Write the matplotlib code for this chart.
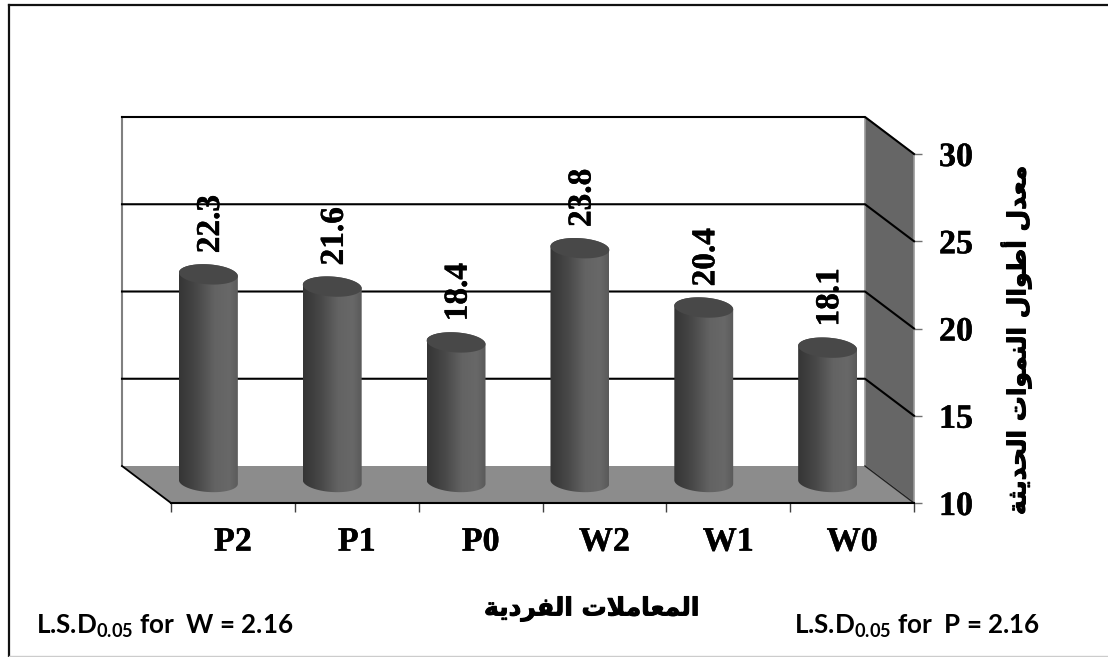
import matplotlib
matplotlib.use('Agg')

import matplotlib.pyplot as plt
import matplotlib.patheffects as pe
import numpy as np
from matplotlib.colors import LinearSegmentedColormap
from matplotlib.lines import Line2D
from matplotlib.patches import Polygon

categories = ['P2', 'P1', 'P0', 'W2', 'W1', 'W0']
values = [22.3, 21.6, 18.4, 23.8, 20.4, 18.1]
y_ticks = [10, 15, 20, 25, 30]

# arabic text in presentation forms, matplotlib does no shaping or bidi
x_title = '\uFE8D\uFEDF\uFEE4\uFECC\uFE8E\uFEE3\uFEFC\uFE95 \uFE8D\uFEDF\uFED4\uFEAE\uFEA9\uFEF3\uFE94'[::-1]
y_title = ('\uFEE3\uFECC\uFEAA\uFEDD \uFE83\uFEC3\uFEEE\uFE8D\uFEDD '
           '\uFE8D\uFEDF\uFEE8\uFEE4\uFEEE\uFE8D\uFE95 '
           '\uFE8D\uFEDF\uFEA4\uFEAA\uFEF3\uFE9C\uFE94')[::-1]
lsd_w = r'L.S.D$_{\mathbf{0.05}}$ for  W = 2.16'
lsd_p = r'L.S.D$_{\mathbf{0.05}}$ for  P = 2.16'

plt.rcParams['mathtext.fontset'] = 'custom'
plt.rcParams['mathtext.bf'] = 'Lato:bold'
plt.rcParams['mathtext.rm'] = 'Lato:bold'

W, H = 1108, 657
fig = plt.figure(figsize=(W / 100, H / 100), dpi=100)
ax = fig.add_axes([171 / W, (H - 503) / H, 743 / W, 349 / H])
ax.patch.set_visible(False)

# size of one pixel in data units, and the depth of the 3d box
px_x = 6 / 743
px_y = 20 / 349
dx = 49 * px_x
dy = 37 * px_y

ax.add_patch(Polygon([(6 - dx, 10 + dy), (6, 10), (6, 30), (6 - dx, 30 + dy)], closed=True,
                     facecolor='#666666', edgecolor='#999999', lw=1.2, clip_on=False, zorder=1))
ax.add_patch(Polygon([(-dx, 10 + dy), (0, 10), (6, 10), (6 - dx, 10 + dy)], closed=True,
                     facecolor='#8c8c8c', edgecolor='none', clip_on=False, zorder=2))

ax.plot([-dx, -dx], [10 + dy, 30 + dy], color='#808080', lw=1.5, clip_on=False, zorder=3)
ax.plot([-dx, 0], [10 + dy, 10], color='black', lw=1.3, clip_on=False, zorder=3)
ax.plot([6 - dx, 6], [10 + dy, 10], color='#222222', lw=1, clip_on=False, zorder=3)
for v in y_ticks[1:]:
    ax.plot([-dx, 6 - dx, 6], [v + dy, v + dy, v], color='black', lw=1.5, clip_on=False, zorder=3,
            solid_joinstyle='miter')

bar_cmap = LinearSegmentedColormap.from_list(
    'cyl', [(0, '#353535'), (0.3, '#484848'), (0.6, '#636363'), (0.85, '#686868'), (1, '#5a5a5a')])
bar_a, bar_b = 29.5, 10
tilt = np.radians(-4)
thick = [pe.withStroke(linewidth=0.3, foreground='black')]
thick_ar = [pe.withStroke(linewidth=0.7, foreground='black')]


def ellipse(cx, cy, t):
    x = bar_a * np.cos(t) * np.cos(tilt) - bar_b * np.sin(t) * np.sin(tilt)
    y = bar_a * np.cos(t) * np.sin(tilt) + bar_b * np.sin(t) * np.cos(tilt)
    return np.column_stack([cx + x * px_x, cy + y * px_y])


floor_v = 10 + 21 * px_y
top_shift = 14 * px_y
for i, v in enumerate(values):
    cx = i + 0.5 - dx / 2
    top = v + top_shift
    body = np.vstack([ellipse(cx, floor_v, np.linspace(np.pi, 2 * np.pi, 40)),
                      ellipse(cx, top, np.linspace(0, np.pi, 40))])
    patch = Polygon(body, closed=True, facecolor='none', edgecolor='none', zorder=4)
    ax.add_patch(patch)
    im = ax.imshow(np.linspace(0, 1, 64).reshape(1, -1), cmap=bar_cmap, aspect='auto',
                   extent=[cx - bar_a * px_x, cx + bar_a * px_x, floor_v - 1, top + 1],
                   interpolation='bilinear', zorder=4)
    im.set_clip_path(patch)
    ax.add_patch(Polygon(ellipse(cx, top, np.linspace(0, 2 * np.pi, 80)), closed=True,
                         facecolor='#484848', edgecolor='none', zorder=5))
    ax.annotate(f'{v}', (cx, top + bar_b * px_y), xytext=(1.5, 8), textcoords='offset points',
                rotation=90, ha='center', va='bottom', fontsize=24, fontweight='bold',
                family='Liberation Serif', color='black', zorder=6, annotation_clip=False,
                path_effects=thick)

ax.set_xlim(0, 6)
ax.set_ylim(10, 30)
ax.set_xticks(range(7))
ax.set_xticks(np.arange(6) + 0.5, categories, minor=True)
ax.set_xticklabels([])
ax.set_yticks(y_ticks)
ax.yaxis.tick_right()
ax.tick_params(axis='x', which='major', length=6.5, width=1, color='#404040')
ax.tick_params(axis='x', which='minor', length=0, pad=17, labelsize=24.5)
ax.tick_params(axis='y', length=6, width=1, color='#707070', pad=12, labelsize=24.5)
for lab in ax.get_xticklabels(minor=True) + ax.get_yticklabels():
    lab.set_family('Liberation Serif')
    lab.set_fontweight('bold')
    lab.set_path_effects(thick)
for name in ['top', 'left', 'right']:
    ax.spines[name].set_visible(False)
ax.spines['bottom'].set_linewidth(1.5)
ax.spines['bottom'].set_zorder(7)

fig.text(592 / W, 1 - 609 / H, x_title, ha='center', va='center', fontsize=18,
         fontweight='bold', family='DejaVu Sans', path_effects=thick_ar)
fig.text(1016 / W, 1 - 340 / H, y_title, ha='center', va='center', rotation=90, fontsize=18,
         fontweight='bold', family='DejaVu Sans', path_effects=thick_ar)
fig.text(36 / W, 1 - 633.5 / H, lsd_w, ha='left', va='baseline', fontsize=18.7,
         fontweight='bold', family='Lato')
fig.text(794 / W, 1 - 633.5 / H, lsd_p, ha='left', va='baseline', fontsize=18.7,
         fontweight='bold', family='Lato')

# page frame, open on the right
fig.add_artist(Line2D([9 / W, 9 / W], [0, 1 - 4.5 / H], color='#111111', lw=1.6))
fig.add_artist(Line2D([9 / W, 1], [1 - 4.5 / H, 1 - 4.5 / H], color='#111111', lw=1.6))
fig.add_artist(Line2D([9 / W, 1], [1 - 656 / H, 1 - 656 / H], color='#cccccc', lw=1))

fig.savefig('out.png', dpi=100)
plt.close(fig)
